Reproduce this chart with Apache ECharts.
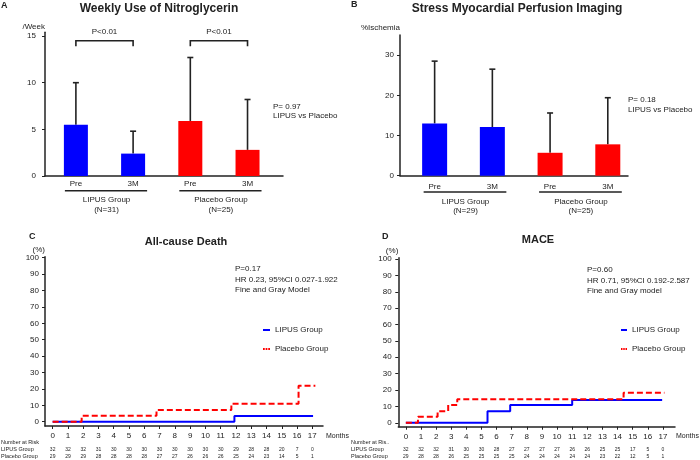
<!DOCTYPE html>
<html>
<head>
<meta charset="utf-8">
<title>LIPUS trial outcomes</title>
<script src="https://cdn.jsdelivr.net/npm/echarts@6/dist/echarts.min.js"></script>
<style>
  html, body { margin: 0; padding: 0; background: #fff; }
  #chart { width: 700px; height: 460px; }
</style>
</head>
<body>
<div id="chart"></div>
<script>
// A / B : bar = mean, whisker = mean + SD
var barCats = ['Pre', '3M', 'Pre', '3M'];
var nitroMean = [5.5, 2.4, 5.9, 2.8];
var nitroUpper = [10.0, 4.8, 12.7, 8.2];
var nitroTicks = [0, 5, 10, 15];
var nitroBrackets = [[0, 1, 14.5, 13.9], [2, 3, 14.5, 13.9]];
var nitroBracketText = ['P<0.01', 'P<0.01'];
var nitroGroupN = ['(N=31)', '(N=25)'];

var mpiMean = [13.0, 12.1, 5.7, 7.8];
var mpiUpper = [28.5, 26.5, 15.6, 19.4];
var mpiTicks = [0, 10, 20, 30];
var mpiGroupN = ['(N=29)', '(N=25)'];

var groupSpans = [[0, 1], [2, 3]];
var groupNames = ['LIPUS Group', 'Placebo Group'];

// C / D : cumulative incidence (%) as [month, value]
var months = [0, 1, 2, 3, 4, 5, 6, 7, 8, 9, 10, 11, 12, 13, 14, 15, 16, 17];
var pctTicks = [0, 10, 20, 30, 40, 50, 60, 70, 80, 90, 100];
var deathLipus = [[0, 0], [11.9, 3.5], [17.05, 3.5]];
var deathPlacebo = [[0, 0], [1.9, 3.6], [6.8, 7.2], [11.7, 11.0], [16.1, 22.0], [17.2, 22.0]];
var maceLipus = [[0, 0], [5.4, 7.0], [6.9, 10.8], [11.0, 13.9], [16.95, 13.9]];
var macePlacebo = [[0, 0], [0.8, 3.7], [2.1, 7.1], [2.8, 10.8], [3.4, 14.4], [14.4, 18.3], [17.1, 18.3]];

// number at risk
var riskLipusC = [32, 32, 32, 31, 30, 30, 30, 30, 30, 30, 30, 30, 29, 28, 28, 20, 7, 0];
var riskPlaceboC = [29, 29, 29, 28, 28, 28, 28, 27, 27, 26, 26, 26, 25, 24, 23, 14, 5, 1];
var riskLipusD = [32, 32, 32, 31, 30, 30, 28, 27, 27, 27, 27, 26, 26, 25, 25, 17, 5, 0];
var riskPlaceboD = [29, 28, 28, 26, 25, 25, 25, 25, 24, 24, 24, 24, 24, 23, 22, 12, 5, 1];

var FONT = '"Liberation Sans", Arial, Helvetica, sans-serif';
var INK = '#222';
var BLUE = '#0000ff';
var RED = '#ff0000';

var myChart = echarts.init(document.getElementById('chart'), null, { renderer: 'canvas' });

function txt(x, y, text, size, align, bold) {
  return {
    type: 'text', x: x, y: y, silent: true,
    style: {
      text: text, fill: INK, fontFamily: FONT, fontSize: size,
      fontWeight: bold ? 'bold' : 'normal',
      textAlign: align || 'left', textVerticalAlign: 'middle'
    }
  };
}

function textEl(x, y, text, size) {
  return {
    type: 'text', x: x, y: y,
    style: {
      text: text, fill: INK, fontFamily: FONT, fontSize: size,
      textAlign: 'center', textVerticalAlign: 'middle'
    }
  };
}

function renderError(params, api) {
  var p0 = api.coord([api.value(0), api.value(1)]);
  var p1 = api.coord([api.value(0), api.value(2)]);
  var st = { stroke: INK, lineWidth: 1.6 };
  return {
    type: 'group',
    children: [
      { type: 'line', shape: { x1: p0[0], y1: p0[1], x2: p1[0], y2: p1[1] }, style: st },
      { type: 'line', shape: { x1: p1[0] - 3, y1: p1[1], x2: p1[0] + 3, y2: p1[1] }, style: st }
    ]
  };
}

function renderBracket(params, api) {
  var a = api.coord([api.value(0), api.value(2)]);
  var b = api.coord([api.value(1), api.value(2)]);
  var leg = api.coord([api.value(0), api.value(3)])[1];
  return {
    type: 'group',
    children: [
      {
        type: 'polyline',
        shape: { points: [[a[0], leg], [a[0], a[1]], [b[0], b[1]], [b[0], leg]] },
        style: { stroke: INK, lineWidth: 1.6, fill: null }
      },
      textEl((a[0] + b[0]) / 2, a[1] - 9, nitroBracketText[params.dataIndex], 8)
    ]
  };
}

function makeGroupRender(nLabels, lineDy, nameDy, nDy) {
  return function (params, api) {
    var i = params.dataIndex;
    var a = api.coord([api.value(0), 0]);
    var b = api.coord([api.value(1), 0]);
    var mid = (a[0] + b[0]) / 2 + 2;
    return {
      type: 'group',
      children: [
        {
          type: 'line',
          shape: { x1: a[0] - 11, y1: a[1] + lineDy, x2: b[0] + 14, y2: a[1] + lineDy },
          style: { stroke: INK, lineWidth: 1.4 }
        },
        textEl(mid, a[1] + nameDy, groupNames[i], 8),
        textEl(mid, a[1] + nDy, nLabels[i], 8)
      ]
    };
  };
}

function barColor(p) {
  return p.dataIndex < 2 ? BLUE : RED;
}

var axisLine = { show: true, onZero: false, lineStyle: { color: INK, width: 1.5 } };
var labelStyle = { color: INK, fontFamily: FONT, fontSize: 8 };

function barXAxis(grid, min, max, margin) {
  return {
    type: 'value', gridIndex: grid, min: min, max: max,
    axisLine: axisLine, axisTick: { show: false }, splitLine: { show: false },
    axisLabel: Object.assign({}, labelStyle, {
      customValues: [0, 1, 2, 3], margin: margin,
      formatter: function (v) { return barCats[v]; }
    })
  };
}

function monthAxis(grid, max) {
  return {
    type: 'value', gridIndex: grid, min: -0.5, max: max,
    axisLine: axisLine, splitLine: { show: false },
    axisTick: { customValues: months, length: 3, lineStyle: { color: INK, width: 1 } },
    axisLabel: Object.assign({}, labelStyle, { customValues: months, margin: 6 })
  };
}

function riskAxis(grid, max, offset, risk) {
  return {
    type: 'value', gridIndex: grid, position: 'bottom', offset: offset,
    min: -0.5, max: max,
    axisLine: { show: false, onZero: false }, axisTick: { show: false }, splitLine: { show: false },
    axisLabel: {
      customValues: months, margin: 0, color: INK, fontFamily: FONT, fontSize: 5,
      formatter: function (v) { return String(risk[v]); }
    }
  };
}

function yAxisOf(grid, min, max, ticks, margin, name, nameGap) {
  return {
    type: 'value', gridIndex: grid, min: min, max: max,
    name: name, nameGap: nameGap,
    nameTextStyle: { color: INK, fontFamily: FONT, fontSize: 8, align: 'right' },
    axisLine: axisLine, splitLine: { show: false },
    axisTick: { customValues: ticks, length: 3, lineStyle: { color: INK, width: 1 } },
    axisLabel: Object.assign({}, labelStyle, { customValues: ticks, margin: margin })
  };
}

function stepLine(name, xi, data, color, dashed) {
  return {
    name: name, type: 'line', xAxisIndex: xi, yAxisIndex: xi,
    data: data, step: 'end', symbol: 'none', silent: true,
    lineStyle: { color: color, width: 2, type: dashed ? [6, 3] : 'solid' },
    itemStyle: { color: color }
  };
}

var legendBase = {
  orient: 'vertical', itemGap: 11, itemHeight: 2, selectedMode: false,
  symbolKeepAspect: false,
  textStyle: { color: INK, fontFamily: FONT, fontSize: 8 },
  data: [
    { name: 'LIPUS Group', icon: 'rect' },
    { name: 'Placebo Group', icon: 'path://M0,0h2v2h-2z M3,0h2v2h-2z M6,0h2v2h-2z' }
  ]
};

var option = {
  animation: false,
  backgroundColor: '#fff',
  grid: [
    { left: 45, top: 32.3, width: 238, height: 143.7 },
    { left: 400, top: 35, width: 228, height: 140.7 },
    { left: 45, top: 256.7, width: 278, height: 169.3 },
    { left: 398.3, top: 257.7, width: 276.7, height: 169 }
  ],
  legend: [
    Object.assign({}, legendBase, { left: 258, top: 321, itemWidth: 7 }),
    Object.assign({}, legendBase, { left: 616, top: 321, itemWidth: 6 })
  ],
  xAxis: [
    barXAxis(0, -0.54, 3.62, 4),
    barXAxis(1, -0.6, 3.35, 7),
    monthAxis(2, 17.7),
    monthAxis(3, 17.8),
    riskAxis(2, 17.7, 20.8, riskLipusC),
    riskAxis(2, 17.7, 28.2, riskPlaceboC),
    riskAxis(3, 17.8, 20.1, riskLipusD),
    riskAxis(3, 17.8, 27.5, riskPlaceboD)
  ],
  yAxis: [
    yAxisOf(0, 0, 15.4, nitroTicks, 9, '/Week', 2),
    yAxisOf(1, 0, 35, mpiTicks, 6, '%Ischemia', 3),
    yAxisOf(2, -2.6, 100.6, pctTicks, 6, '(%)', 3),
    yAxisOf(3, -2.4, 100.8, pctTicks, 6.6, '(%)', 3)
  ],
  series: [
    {
      name: 'nitro', type: 'bar', xAxisIndex: 0, yAxisIndex: 0, barWidth: 24, silent: true,
      data: nitroMean.map(function (v, i) { return [i, v]; }),
      itemStyle: { color: barColor }
    },
    {
      name: 'nitroErr', type: 'custom', xAxisIndex: 0, yAxisIndex: 0, silent: true,
      data: nitroMean.map(function (v, i) { return [i, v, nitroUpper[i]]; }),
      renderItem: renderError
    },
    {
      name: 'nitroP', type: 'custom', xAxisIndex: 0, yAxisIndex: 0, silent: true,
      data: nitroBrackets, renderItem: renderBracket
    },
    {
      name: 'nitroGroups', type: 'custom', xAxisIndex: 0, yAxisIndex: 0, silent: true,
      data: groupSpans, renderItem: makeGroupRender(nitroGroupN, 14.7, 24, 34)
    },
    {
      name: 'mpi', type: 'bar', xAxisIndex: 1, yAxisIndex: 1, barWidth: 25, silent: true,
      data: mpiMean.map(function (v, i) { return [i, v]; }),
      itemStyle: { color: barColor }
    },
    {
      name: 'mpiErr', type: 'custom', xAxisIndex: 1, yAxisIndex: 1, silent: true,
      data: mpiMean.map(function (v, i) { return [i, v, mpiUpper[i]]; }),
      renderItem: renderError
    },
    {
      name: 'mpiGroups', type: 'custom', xAxisIndex: 1, yAxisIndex: 1, silent: true,
      data: groupSpans, renderItem: makeGroupRender(mpiGroupN, 16.3, 26.3, 35.3)
    },
    stepLine('LIPUS Group', 2, deathLipus, BLUE, false),
    stepLine('Placebo Group', 2, deathPlacebo, RED, true),
    stepLine('LIPUS Group', 3, maceLipus, BLUE, false),
    stepLine('Placebo Group', 3, macePlacebo, RED, true)
  ],
  graphic: [
    txt(1, 6, 'A', 9, 'left', true),
    txt(159, 9, 'Weekly Use of Nitroglycerin', 12, 'center', true),
    txt(273, 107, 'P= 0.97', 8),
    txt(273, 116, 'LIPUS vs Placebo', 8),

    txt(351, 5, 'B', 9, 'left', true),
    txt(517, 9, 'Stress Myocardial Perfusion Imaging', 12, 'center', true),
    txt(628, 100, 'P= 0.18', 8),
    txt(628, 110, 'LIPUS vs Placebo', 8),

    txt(29, 237, 'C', 9, 'left', true),
    txt(186, 242, 'All-cause Death', 11, 'center', true),
    txt(235, 269, 'P=0.17', 8),
    txt(235, 279.5, 'HR 0.23, 95%CI 0.027-1.922', 8),
    txt(235, 290, 'Fine and Gray Model', 8),
    txt(326, 436, 'Months', 7),
    txt(1, 442, 'Number at Risk', 5.5),
    txt(1, 449.3, 'LIPUS Group', 5.5),
    txt(1, 456.7, 'Placebo Group', 5.5),

    txt(382, 237, 'D', 9, 'left', true),
    txt(538, 239.5, 'MACE', 11, 'center', true),
    txt(587, 270, 'P=0.60', 8),
    txt(587, 280.5, 'HR 0.71, 95%CI 0.192-2.587', 8),
    txt(587, 291, 'Fine and Gray model', 8),
    txt(676, 436, 'Months', 7),
    txt(351, 442, 'Number at Ris..', 5.5),
    txt(351, 449.3, 'LIPUS Group', 5.5),
    txt(351, 456.7, 'Placebo Group', 5.5)
  ]
};

myChart.setOption(option);
</script>
</body>
</html>
